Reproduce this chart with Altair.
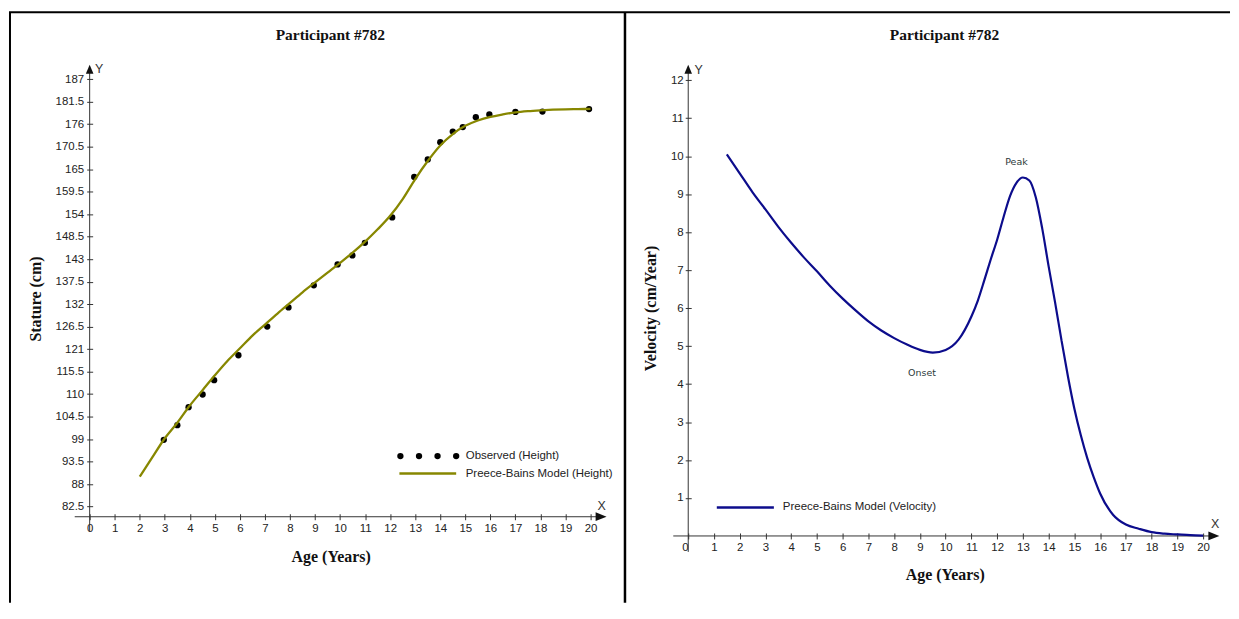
import altair as alt
import pandas as pd

# ---------------- data ----------------
obs_age = [2.96, 3.5, 3.95, 4.51, 4.97, 5.94, 7.09, 7.94, 8.95, 9.9, 10.49, 10.99,
           12.08, 12.96, 13.5, 14.0, 14.5, 14.9, 15.42, 15.96, 17.0, 18.08, 19.94]
obs_height = [98.8, 102.4, 106.8, 109.9, 113.4, 119.5, 126.5, 131.2, 136.6, 141.7, 143.9, 147.0,
              153.2, 163.1, 167.4, 171.6, 174.2, 175.3, 177.7, 178.4, 179.0, 179.1, 179.7]

model_age = [2.0, 2.5, 3.0, 3.5, 4.0, 4.5, 5.0, 5.5, 6.0, 6.5, 7.0, 7.5, 8.0, 8.5, 9.0, 9.5,
             10.0, 10.5, 11.0, 11.5, 12.0, 12.5, 13.0, 13.5, 14.0, 14.5, 15.0, 15.5, 16.0,
             16.5, 17.0, 17.5, 18.0, 18.5, 19.0, 19.5, 20.0]
model_height = [89.8, 94.5, 99.2, 103.0, 107.2, 110.9, 114.6, 118.1, 121.2, 124.3, 127.0, 129.7,
                132.3, 134.9, 137.3, 139.7, 142.1, 144.6, 147.3, 150.3, 153.6, 157.7, 162.6,
                167.0, 170.8, 173.6, 175.6, 176.9, 177.8, 178.4, 178.9, 179.2, 179.4, 179.55,
                179.65, 179.7, 179.75]

vel_age = [1.5, 2.0, 2.5, 3.0, 3.5, 4.0, 4.5, 5.0, 5.5, 6.0, 6.5, 7.0, 7.5, 8.0, 8.5, 9.0,
           9.5, 10.0, 10.5, 11.0, 11.25, 11.5, 11.75, 12.0, 12.25, 12.5, 12.75, 13.0, 13.25,
           13.5, 13.75, 14.0, 14.25, 14.5, 14.75, 15.0, 15.25, 15.5, 15.75, 16.0, 16.5, 17.0,
           17.5, 18.0, 18.5, 19.0, 19.5, 20.0]
vel_value = [10.05, 9.55, 9.05, 8.6, 8.14, 7.72, 7.33, 6.97, 6.59, 6.25, 5.94, 5.65, 5.41,
             5.21, 5.04, 4.9, 4.83, 4.9, 5.17, 5.78, 6.2, 6.73, 7.28, 7.8, 8.4, 8.95, 9.3,
             9.44, 9.36, 8.92, 8.1, 7.1, 6.15, 5.15, 4.2, 3.35, 2.65, 2.05, 1.55, 1.12, 0.56,
             0.3, 0.19, 0.1, 0.06, 0.04, 0.02, 0.01]

x_ticks = list(range(0, 21))
height_ticks = [82.5, 88, 93.5, 99, 104.5, 110, 115.5, 121, 126.5, 132, 137.5, 143, 148.5,
                154, 159.5, 165, 170.5, 176, 181.5, 187]
vel_ticks = list(range(1, 13))

annot_text = ["Peak", "Onset"]
annot_age = [12.75, 9.08]
annot_vel = [9.84, 4.29]

title_text = "Participant #782"
legend_left = ["Observed (Height)", "Preece-Bains Model (Height)"]
legend_right = ["Preece-Bains Model (Velocity)"]

# ---------------- styles ----------------
SANS = "Liberation Sans, Arial, sans-serif"
SERIF = "Liberation Serif, Times New Roman, serif"
OLIVE = "#878700"
NAVY = "#0c0c8c"
AXC = "#333333"
TXT = "#222222"

W1, H1 = 518, 451.6
W2, H2 = 532.5, 470.9


def deco():
    return alt.Chart(alt.Data(values=[{"d": 0}]))


def rule(x, x2, y, y2, color=AXC, width=1.0):
    return deco().mark_rule(color=color, strokeWidth=width).encode(
        x=alt.value(x), x2=alt.value(x2), y=alt.value(y), y2=alt.value(y2))


def text(t, x, y, font=SANS, size=11.5, weight="normal", align="left", color=TXT):
    return deco().mark_text(text=t, font=font, fontSize=size, fontWeight=weight,
                            align=align, baseline="middle", color=color).encode(
        x=alt.value(x), y=alt.value(y))


def arrow(x, y, path, size):
    return deco().mark_point(shape=path, filled=True, size=size, color="#111111",
                             opacity=1, strokeWidth=0).encode(x=alt.value(x), y=alt.value(y))


RIGHT_TRI = "M -1 -0.8 L 1 0 L -1 0.8 Z"
UP_TRI = "M -0.85 1 L 0 -1 L 0.85 1 Z"


def x_axis(title_x, title_y, pad, label_align=None):
    kw = dict(values=x_ticks, format="d", domain=False, grid=False, tickSize=6, offset=-3,
              tickColor=AXC, tickWidth=1, labelFont=SANS, labelFontSize=11.5, labelColor=TXT,
              labelPadding=pad, labelFlush=False, labelOverlap=False,
              title="Age (Years)", titleFont=SERIF, titleFontSize=16, titleFontWeight="bold",
              titleColor="#111111", titleX=title_x, titleY=title_y, titleAlign="center",
              titleBaseline="middle")
    if label_align is not None:
        kw["labelAlign"] = label_align
    return alt.Axis(**kw)


def y_axis(values, title, title_x, title_y, pad):
    return alt.Axis(values=values, format=".1~f", domain=False, grid=False, tickSize=6, offset=-3,
                    tickColor=AXC, tickWidth=1, labelFont=SANS, labelFontSize=11.5,
                    labelColor=TXT, labelPadding=pad, labelFlush=False, labelOverlap=False,
                    title=title, titleFont=SERIF, titleFontSize=16, titleFontWeight="bold",
                    titleColor="#111111", titleX=title_x, titleY=title_y, titleAngle=270,
                    titleAlign="center", titleBaseline="middle")


# ---------------- left panel ----------------
obs_df = pd.DataFrame({"age": obs_age, "height": obs_height})
model_df = pd.DataFrame({"age": model_age, "height": model_height})

xl = alt.X("age:Q", scale=alt.Scale(domain=[0, 20.6], nice=False, zero=False),
           axis=x_axis(242, 43, 3))
yl = alt.Y("height:Q", scale=alt.Scale(domain=[80, 190], nice=False, zero=False),
           axis=y_axis(height_ticks, "Stature (cm)", -57.4, 232.5, 3))

points = alt.Chart(obs_df).mark_circle(size=40, color="#000000", opacity=1).encode(x=xl, y=yl)
model_line = alt.Chart(model_df).mark_line(color=OLIVE, strokeWidth=2.3,
                                           interpolate="monotone").encode(x=xl, y=yl)

left_layers = [
    # page/table borders
    rule(-81, 1145, -55, -55, color="#000000", width=2),
    rule(-80, -80, -55, 538, color="#000000", width=2),
    rule(537.5, 537.5, -55, 538, color="#000000", width=2.5),
    # axis lines and arrows
    rule(0, 0, 6, H1 + 15),
    rule(-15, 509, H1, H1),
    arrow(513.5, H1, RIGHT_TRI, 121),
    arrow(0, 2.2, UP_TRI, 81),
    text("Y", 9.5, 2.5, size=12.5, align="center", color="#333333"),
    text("X", 514, 440.5, size=12.5, align="center", color="#333333"),
    # title
    text(title_text, 241.6, -31.7, font=SERIF, size=15.5, weight="bold", align="center",
         color="#111111"),
    # legend
    rule(311, 368, 408.3, 408.3, color=OLIVE, width=2.5),
    text(legend_left[0], 377.6, 390.7),
    text(legend_left[1], 377.6, 408.3),
]
for dx in [312, 330.7, 349.3, 368]:
    left_layers.append(deco().mark_circle(size=40, color="#000000", opacity=1).encode(
        x=alt.value(dx), y=alt.value(390.7)))
left_layers += [points, model_line]

left = alt.layer(*left_layers).properties(width=W1, height=H1)

# ---------------- right panel ----------------
vel_df = pd.DataFrame({"age": vel_age, "vel": vel_value})
ann_df = pd.DataFrame({"age": annot_age, "vel": annot_vel, "label": annot_text})

xr = alt.X("age:Q", scale=alt.Scale(domain=[0, 20.6], nice=False, zero=False),
           axis=x_axis(257.6, 42, 2.5,
                       label_align=alt.ExprRef(expr="datum.value == 0 ? 'right' : 'center'")))
yr = alt.Y("vel:Q", scale=alt.Scale(domain=[0, 12.35], nice=False, zero=False),
           axis=y_axis(vel_ticks, "Velocity (cm/Year)", -40.4, 242, 2))

vel_line = alt.Chart(vel_df).mark_line(color=NAVY, strokeWidth=2.2,
                                       interpolate="monotone").encode(x=xr, y=yr)
ann = alt.Chart(ann_df).mark_text(font="DejaVu Sans, Verdana, sans-serif", fontSize=9.5,
                                  color="#2d3a3a", baseline="middle", align="center").encode(
    x=xr, y=yr, text="label:N")

right_layers = [
    rule(0, 0, 6, H2 + 16),
    rule(-15, 523, H2, H2),
    arrow(527.8, H2, RIGHT_TRI, 121),
    arrow(0, 2.2, UP_TRI, 81),
    text("Y", 10.4, 3.3, size=12.5, align="center", color="#333333"),
    text("X", 529, 459, size=12.5, align="center", color="#333333"),
    text(title_text, 257.3, -31.7, font=SERIF, size=15.5, weight="bold", align="center",
         color="#111111"),
    rule(28.7, 86, 442.3, 442.3, color=NAVY, width=2.5),
    text(legend_right[0], 95, 442.3),
    vel_line,
    ann,
]
right = alt.layer(*right_layers).properties(width=W2, height=H2)

chart = alt.hconcat(left, right, spacing=83, bounds="flush").properties(
    padding={"left": 0, "top": 1, "right": 0, "bottom": 0}
).configure(background="white", view=alt.ViewConfig(stroke=None))

chart.save("out.html", embed_options={"renderer": "svg", "actions": False})
